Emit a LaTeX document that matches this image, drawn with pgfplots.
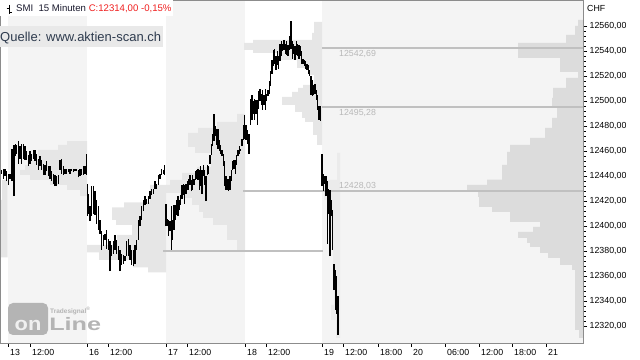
\documentclass[border=0pt]{standalone}
\usepackage{pgfplots}
\pgfplotsset{compat=1.18}
\usepackage{pgfplotstable}
\usepackage{fontspec}
\setmainfont{Liberation Sans}
\definecolor{daybg}{HTML}{F4F4F4}
\definecolor{prof}{HTML}{E6E6E6}
\definecolor{profR}{HTML}{DCDCDC}
\definecolor{profN}{HTML}{EBEBEB}
\definecolor{pocline}{HTML}{C0C0C0}
\definecolor{lblgray}{HTML}{B8B8B8}
\definecolor{frame}{HTML}{8C8C8C}
\definecolor{quellebg}{HTML}{E9E9E9}
\definecolor{quelletxt}{HTML}{2E3B4E}
\definecolor{titledark}{HTML}{1A1A2E}
\definecolor{titlered}{HTML}{F01E1E}
\definecolor{logogray}{HTML}{B4B4B4}

\pgfplotstableread{
x lo hi
1.7 12442 12445
3.3 12438 12446
5.0 12440 12446
6.7 12436 12444
8.3 12433 12442
10.0 12438 12442
12.0 12436 12462
14.0 12424 12465
15.3 12456 12466
16.7 12458 12465
18.3 12450 12468
20.0 12454 12464
21.7 12450 12466
23.3 12454 12466
25.0 12453 12464
26.7 12453 12460
28.3 12448 12457
30.0 12450 12460
31.7 12452 12458
33.3 12454 12461
35.0 12452 12461
36.7 12449 12458
38.3 12445 12454
40.0 12448 12456
41.7 12445 12453
43.3 12441 12450
45.0 12441 12449
46.7 12444 12452
48.3 12440 12448
50.0 12438 12448
51.7 12436 12444
53.3 12434 12442
55.0 12432 12441
56.7 12432 12440
58.3 12434 12441
60.0 12445 12453
61.7 12442 12454
63.3 12441 12448
65.0 12442 12446
66.7 12442 12446
68.3 12443 12446
70.0 12442 12446
71.7 12444 12446
73.3 12443 12446
75.0 12444 12446
76.7 12444 12446
78.3 12439 12445
80.0 12440 12446
81.7 12441 12446
83.3 12441 12448
85.0 12442 12448
86.2 12441 12458
87.4 12408 12434
88.6 12410 12426
90.0 12404 12416
91.7 12408 12432
93.3 12410 12432
95.0 12409 12428
96.7 12402 12421
98.3 12397 12416
100.0 12394 12405
101.7 12381 12396
103.3 12384 12393
105.0 12389 12394
106.7 12382 12397
108.3 12381 12390
110.0 12364 12388
111.7 12376 12385
113.3 12378 12388
115.0 12381 12393
116.7 12378 12389
118.3 12373 12384
120.0 12364 12381
121.7 12369 12378
123.3 12370 12377
125.0 12372 12376
126.7 12376 12388
128.3 12376 12390
130.0 12373 12385
131.7 12369 12381
133.3 12368 12381
135.0 12370 12385
136.7 12381 12389
138.3 12389 12405
140.0 12400 12408
141.7 12405 12416
143.3 12412 12421
145.0 12417 12424
146.7 12418 12422
148.3 12418 12424
150.0 12422 12428
151.7 12425 12430
153.3 12426 12430
155.0 12430 12436
156.7 12430 12434
158.3 12433 12441
160.0 12438 12442
161.7 12441 12446
163.3 12442 12445
164.5 12441 12449
166.0 12400 12418
167.3 12400 12406
168.7 12392 12405
170.0 12396 12404
171.7 12381 12416
172.7 12389 12405
174.0 12397 12417
175.3 12405 12417
176.7 12409 12421
178.0 12408 12424
179.3 12413 12421
180.7 12417 12425
182.0 12422 12433
183.3 12425 12434
184.7 12418 12433
186.0 12426 12434
187.3 12429 12436
188.7 12429 12438
190.0 12433 12441
191.3 12428 12437
192.7 12429 12441
194.0 12433 12438
195.3 12437 12444
196.7 12438 12445
198.0 12437 12446
199.3 12429 12445
200.7 12432 12448
202.0 12426 12445
203.3 12440 12449
204.7 12433 12445
206.0 12420 12440
207.3 12441 12449
208.7 12442 12448
210.0 12450 12457
211.3 12457 12466
212.7 12464 12474
214.0 12468 12490
215.3 12472 12480
216.7 12465 12478
218.0 12462 12478
219.3 12460 12469
220.7 12458 12465
222.0 12456 12461
223.3 12448 12458
224.7 12432 12452
226.0 12429 12440
227.3 12429 12438
228.7 12428 12438
230.0 12429 12440
231.3 12436 12445
232.7 12445 12452
234.0 12446 12453
235.3 12442 12453
236.7 12449 12457
238.0 12456 12461
239.3 12458 12464
240.7 12460 12462
242.0 12464 12470
243.3 12469 12481
244.7 12470 12489
246.0 12469 12481
247.3 12466 12477
249.0 12458 12474
250.7 12481 12502
252.0 12485 12505
253.3 12490 12500
254.7 12485 12502
256.0 12490 12501
257.3 12481 12501
258.7 12494 12508
260.0 12500 12510
261.3 12497 12506
262.7 12493 12509
264.0 12497 12505
265.3 12493 12510
266.7 12500 12506
268.0 12504 12509
269.3 12506 12516
270.7 12512 12524
272.0 12522 12533
273.3 12528 12541
274.7 12530 12542
276.0 12525 12536
277.3 12529 12540
278.7 12526 12536
280.0 12532 12546
281.3 12536 12548
282.7 12540 12546
284.0 12541 12549
285.3 12538 12546
286.7 12537 12548
288.0 12536 12545
289.3 12541 12552
291.0 12542 12564
292.3 12534 12548
293.7 12538 12546
295.0 12533 12544
296.3 12537 12548
297.7 12536 12546
299.0 12534 12545
300.3 12536 12544
301.7 12530 12540
303.0 12530 12534
304.3 12528 12533
305.7 12526 12532
307.0 12525 12530
308.3 12522 12529
309.7 12520 12525
311.0 12505 12520
312.3 12504 12517
313.7 12505 12513
315.0 12506 12514
316.3 12501 12509
317.7 12493 12505
319.0 12485 12496
320.3 12484 12496
322.0 12432 12458
323.3 12428 12442
324.7 12434 12440
326.0 12424 12440
327.3 12386 12436
328.7 12410 12430
330.0 12376 12429
331.3 12408 12421
332.7 12381 12413
334.0 12349 12370
335.3 12333 12365
336.7 12330 12360
338.0 12313 12344
}\bars

\begin{document}
\begin{tikzpicture}
\path[use as bounding box] (0,0) rectangle (640bp,360bp);
\begin{axis}[
  at={(0bp,17bp)}, anchor=south west,
  scale only axis, width=583bp, height=343bp,
  xmin=0, xmax=583, ymin=12306.6, ymax=12581,
  axis on top,
  axis line style={draw=frame, line width=0.8bp},
  xtick={8,30,87,108,166,187,245,266,322,343,378,411,445,479,512,546},
  xticklabels={13,12:00,16,12:00,17,12:00,18,12:00,19,12:00,18:00,20,06:00,12:00,18:00,21},
  xtick pos=lower, ytick pos=right, yticklabel pos=right,
  tick align=outside,
  major tick length=4bp, minor tick length=2.5bp,
  tick style={black, line width=0.6bp},
  ytick={12320,12340,12360,12380,12400,12420,12440,12460,12480,12500,12520,12540,12560},
  minor y tick num=4,
  scaled y ticks=false,
  yticklabel={\pgfmathprintnumber[assume math mode=true,fixed,fixed zerofill,precision=2,use comma,1000 sep={}]{\tick}},
  ticklabel style={font=\fontsize{8.8bp}{10bp}\selectfont, text=black},
  xticklabel style={anchor=north west, inner sep=0pt, xshift=2bp, yshift=-2.5bp},
  yticklabel style={anchor=west, inner sep=0pt, xshift=2.5bp},
]
% day backgrounds
\addplot[fill=daybg, draw=none] coordinates {(8,12306.6) (87,12306.6) (87,12581) (8,12581)} -- cycle;
\addplot[fill=daybg, draw=none] coordinates {(166,12306.6) (245,12306.6) (245,12581) (166,12581)} -- cycle;
\addplot[fill=daybg, draw=none] coordinates {(322,12306.6) (583,12306.6) (583,12581) (322,12581)} -- cycle;
% daily volume profiles
\addplot[fill=prof, draw=none] coordinates {(7.5,12375) (0,12375) (0,12421) (2,12421) (2,12437) (7.5,12437)} -- cycle;
\addplot[fill=prof, draw=none] coordinates {(87,12424) (80,12424) (80,12429) (67,12429) (67,12433) (50,12433) (50,12437) (30,12437) (30,12441) (20,12441) (20,12445) (25,12445) (25,12449) (30,12449) (30,12453) (38,12453) (38,12461) (58,12461) (58,12465) (67,12465) (67,12468) (87,12468)} -- cycle;
\addplot[fill=prof, draw=none] coordinates {(166,12363) (148,12363) (148,12367) (133,12367) (133,12373) (99,12373) (99,12379) (87,12379) (87,12385) (117,12385) (117,12393) (132,12393) (132,12401) (116,12401) (116,12405) (112,12405) (112,12415) (124,12415) (124,12419) (150,12419) (150,12433) (166,12433)} -- cycle;
\addplot[fill=prof, draw=none] coordinates {(245,12381) (237,12381) (237,12389) (227,12389) (227,12401) (213,12401) (213,12406.6) (203,12406.6) (203,12411.4) (199,12411.4) (199,12417) (192,12417) (192,12422.6) (180,12422.6) (180,12426.6) (166,12426.6) (166,12433) (245,12433)} -- cycle;
\addplot[fill=prof, draw=none] coordinates {(245,12433) (170,12433) (170,12437) (182,12437) (182,12442.6) (197,12442.6) (197,12447.4) (211,12447.4) (211,12458.6) (195,12458.6) (195,12463.4) (188,12463.4) (188,12474.6) (198,12474.6) (198,12478.6) (217,12478.6) (217,12483.4) (237,12483.4) (237,12489.8) (245,12489.8)} -- cycle;
\addplot[fill=prof, draw=none] coordinates {(322,12465) (317,12465) (317,12473) (313,12473) (313,12483.4) (305,12483.4) (305,12486.6) (302,12486.6) (302,12491.4) (295,12491.4) (295,12497) (282,12497) (282,12503.4) (292,12503.4) (292,12507.4) (298,12507.4) (298,12510.6) (303,12510.6) (303,12513) (322,12513)} -- cycle;
\addplot[fill=prof, draw=none] coordinates {(322,12513) (314,12513) (314,12521) (310,12521) (310,12526.6) (297,12526.6) (297,12533) (277,12533) (277,12538.6) (253,12538.6) (253,12541) (244,12541) (244,12546.6) (253,12546.6) (253,12549) (312,12549) (312,12554.6) (314,12554.6) (314,12563.4) (322,12563.4)} -- cycle;
\addplot[fill=profN, draw=none] coordinates {(340,12310.6) (336,12310.6) (336,12325) (331,12325) (331,12337) (334,12337) (334,12365) (333,12365) (333,12397) (330,12397) (330,12421) (324,12421) (324,12437) (337,12437) (337,12458.6) (340,12458.6)} -- cycle;
% total volume profile (in four pieces)
\addplot[fill=profR, draw=none] coordinates {(583,12310.6) (579,12310.6) (579,12317) (575,12317) (575,12365) (572,12365) (572,12369) (560,12369) (560,12374.6) (548,12374.6) (548,12378.6) (540,12378.6) (540,12383.4) (530,12383.4) (530,12386.6) (527,12386.6) (527,12390.6) (518,12390.6) (518,12395.4) (533,12395.4) (533,12399.4) (540,12399.4) (540,12403.6) (583,12403.6)} -- cycle;
\addplot[fill=profR, draw=none] coordinates {(583,12403.4) (510,12403.4) (510,12411.4) (492,12411.4) (492,12415.4) (479,12415.4) (479,12423.4) (478,12423.4) (478,12427.4) (467,12427.4) (467,12433) (487,12433) (487,12437.2) (583,12437.2)} -- cycle;
\addplot[fill=profR, draw=none] coordinates {(583,12437) (502,12437) (502,12449) (507,12449) (507,12459.4) (510,12459.4) (510,12465) (530,12465) (530,12470.6) (545,12470.6) (545,12478.6) (552,12478.6) (552,12486.6) (557,12486.6) (557,12494.8) (583,12494.8)} -- cycle;
\addplot[fill=profR, draw=none] coordinates {(583,12494.6) (552,12494.6) (552,12502.6) (553,12502.6) (553,12510.6) (566,12510.6) (566,12518.6) (578,12518.6) (578,12523.4) (560,12523.4) (560,12534.6) (518,12534.6) (518,12546.6) (566,12546.6) (566,12553) (575,12553) (575,12560.2) (578,12560.2) (578,12565) (583,12565)} -- cycle;
% point-of-control lines
\addplot[pocline, line width=1.6bp] coordinates {(322,12542.69) (583,12542.69)};
\addplot[pocline, line width=1.6bp] coordinates {(322,12495.28) (583,12495.28)};
\addplot[pocline, line width=1.6bp] coordinates {(243,12428.03) (583,12428.03)};
\addplot[pocline, line width=1.6bp] coordinates {(163,12380) (323,12380)};
% price bars
\addplot[draw=none, mark=none, error bars/.cd, y dir=plus, y explicit, error mark=none,
  error bar style={black, line width=1.35bp}]
  table[x=x, y=lo, y error expr=\thisrow{hi}-\thisrow{lo}] {\bars};
\node[anchor=west, inner sep=0pt, text=lblgray, font=\fontsize{8.8bp}{10bp}\selectfont] at (axis cs:339,12538.2) {12542,69};
\node[anchor=west, inner sep=0pt, text=lblgray, font=\fontsize{8.8bp}{10bp}\selectfont] at (axis cs:339,12490.6) {12495,28};
\node[anchor=west, inner sep=0pt, text=lblgray, font=\fontsize{8.8bp}{10bp}\selectfont] at (axis cs:339,12432.2) {12428,03};
\end{axis}
% title box
\fill[white] (0,344bp) rectangle (173bp,360bp);
\draw[black, line width=0.8bp] (9bp,355bp) -- (9bp,346bp) (6.5bp,352bp) -- (9bp,352bp) (9bp,348bp) -- (11.5bp,348bp);
\node[anchor=base west, inner sep=0pt, font=\fontsize{9.6bp}{11bp}\selectfont] at (16bp,348bp)
  {\textcolor{titledark}{SMI\ \ 15 Minuten} \textcolor{titlered}{C:12314,00 -0,15\%}};
% source box
\fill[quellebg] (0,313bp) rectangle (163bp,334bp);
\node[anchor=base west, inner sep=0pt, text=quelletxt, font=\fontsize{13bp}{15bp}\selectfont] at (0bp,318bp) {Quelle: www.aktien-scan.ch};
\node[anchor=west, inner sep=0pt] at (587bp,352bp) {\fontsize{8.8bp}{10bp}\selectfont CHF};
% logo
\fill[logogray, rounded corners=5bp] (8bp,25bp) rectangle (48bp,57bp);
\node[anchor=base, inner sep=0pt, text=white!88!gray, font=\bfseries\fontsize{19bp}{19bp}\selectfont, xscale=1.15] at (28bp,30bp) {on};
\node[anchor=base west, inner sep=0pt, text=logogray, font=\bfseries\fontsize{18bp}{18bp}\selectfont, xscale=1.4] at (49bp,30bp) {Line};
\node[anchor=base west, inner sep=0pt, text=logogray, font=\bfseries\fontsize{6.5bp}{7bp}\selectfont] at (50bp,46bp) {Tradesignal\textsuperscript{\tiny ®}};
\end{tikzpicture}
\end{document}
